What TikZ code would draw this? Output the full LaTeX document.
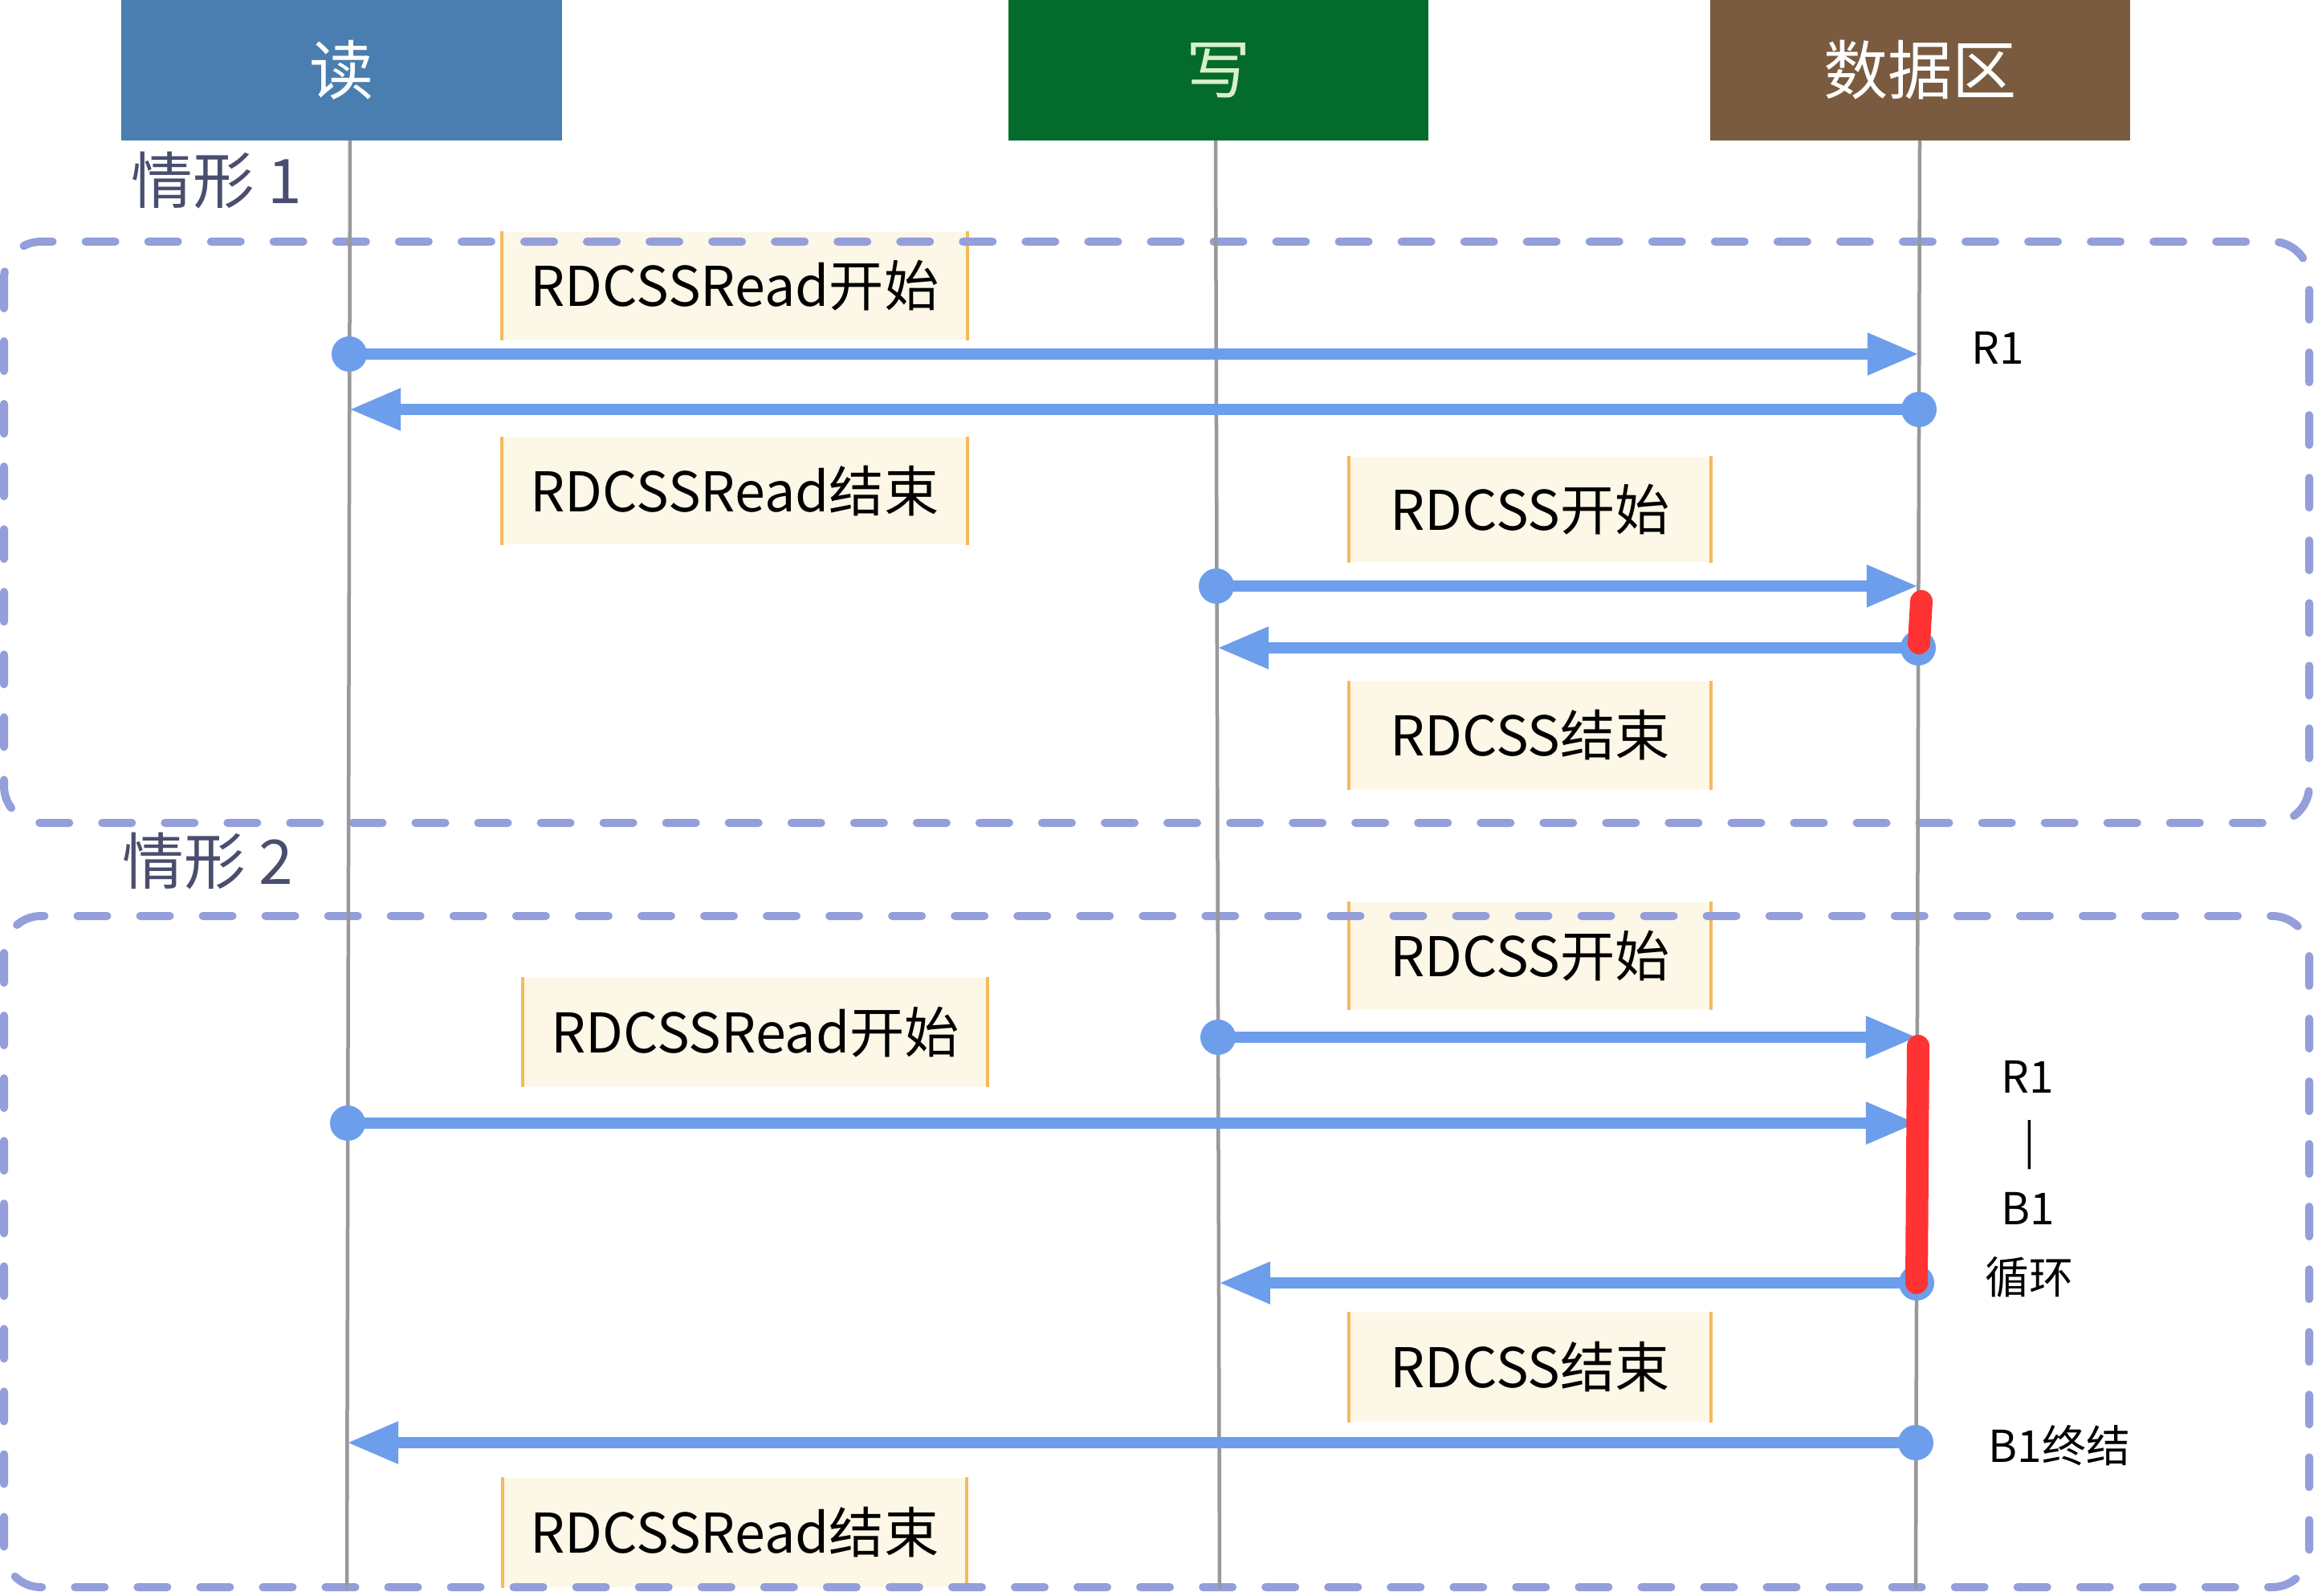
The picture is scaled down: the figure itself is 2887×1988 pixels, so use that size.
\documentclass[tikz,border=0pt]{standalone}
\usepackage{fontspec}
\setmainfont{Noto Sans CJK SC}
\usetikzlibrary{arrows.meta}
\definecolor{readblue}{HTML}{4A7EB0}
\definecolor{writegreen}{HTML}{036B2B}
\definecolor{databrown}{HTML}{7B5B3F}
\definecolor{writetext}{HTML}{D8F0C8}
\definecolor{casecol}{HTML}{4A4E6E}
\definecolor{dashcol}{HTML}{939EDA}
\definecolor{notefill}{HTML}{FCF7E6}
\definecolor{noteedge}{HTML}{F5BA5C}
\definecolor{msgblue}{HTML}{6D9EEB}
\definecolor{barred}{HTML}{FF3333}
\definecolor{lifegray}{HTML}{999999}
\begin{document}
\begin{tikzpicture}[x=0.01cm,y=-0.01cm,
 header/.style={rectangle, minimum height=1.75cm, inner sep=0, font=\fontsize{22.8}{26}\selectfont},
 notebox/.style={rectangle, fill=notefill, inner sep=0, font=\fontsize{19.4}{23}\selectfont},
 noteline/.style={draw=noteedge, line width=0.04cm},
 casebox/.style={draw=dashcol, line width=0.1cm, rounded corners=0.46cm, dash pattern=on 0.37cm off 0.41cm, line cap=round},
 caselabel/.style={text=casecol, font=\fontsize{21.8}{24}\selectfont},
 lifeline/.style={draw=lifegray, line width=0.045cm},
 msg/.style={draw=msgblue, line width=0.14cm, -{Triangle[length=0.64cm,width=0.49cm]}},
 dot/.style={circle, fill=msgblue, minimum size=0.44cm, inner sep=0},
 lockbar/.style={draw=barred, line width=0.28cm, line cap=round},
 sidelabel/.style={font=\fontsize{15.6}{18}\selectfont}
]
\useasboundingbox (0,0) rectangle (2887,1988);

% headers
\node[header, fill=readblue, text=white, minimum width=5.49cm] (hread) at (425.5,87.5) {读};
\node[header, fill=writegreen, text=writetext, minimum width=5.23cm] (hwrite) at (1517.5,87.5) {写};
\node[header, fill=databrown, text=white, minimum width=5.23cm] (hdata) at (2391.5,87.5) {数据区};

% notes
\node[notebox, minimum width=5.78cm, minimum height=1.34cm] (n1) at (915,356) {RDCSSRead开始};
\node[notebox, minimum width=5.78cm, minimum height=1.33cm] (n2) at (915,611.5) {RDCSSRead结束};
\node[notebox, minimum width=4.49cm, minimum height=1.31cm] (n3) at (1905.5,634.5) {RDCSS开始};
\node[notebox, minimum width=4.49cm, minimum height=1.34cm] (n4) at (1905.5,916) {RDCSS结束};
\node[notebox, minimum width=4.49cm, minimum height=1.33cm] (n5) at (1905.5,1190.5) {RDCSS开始};
\node[notebox, minimum width=5.77cm, minimum height=1.35cm] (n6) at (940.5,1285.5) {RDCSSRead开始};
\node[notebox, minimum width=4.49cm, minimum height=1.36cm] (n7) at (1905.5,1703) {RDCSS结束};
\node[notebox, minimum width=5.76cm, minimum height=1.36cm] (n8) at (915,1909) {RDCSSRead结束};
\foreach \n in {n1,n2,n3,n4,n5,n6,n7,n8}{
  \draw[noteline] (\n.north west) -- (\n.south west);
  \draw[noteline] (\n.north east) -- (\n.south east);
}

% case frames
\draw[casebox] (5,301) rectangle (2876,1025);
\draw[casebox] (5,1141) rectangle (2876,1977);
\node[caselabel] (c1) at (270,225) {情形 1};
\node[caselabel] (c2) at (259,1073) {情形 2};

% lifelines
\coordinate (rt) at (436,175);
\coordinate (rb) at (432,1980);
\coordinate (wt) at (1514,175);
\coordinate (wb) at (1519,1980);
\coordinate (dt) at (2391,175);
\coordinate (db) at (2386,1980);
\draw[lifeline] (rt) -- (rb);
\draw[lifeline] (wt) -- (wb);
\draw[lifeline] (dt) -- (db);

% case 1 messages
\node[dot] (d1) at (435,441) {};
\coordinate (t1) at (2390,441);
\draw[msg] (d1.center) -- (t1);
\node[dot] (d2) at (2390,510) {};
\coordinate (t2) at (435,510);
\draw[msg] (d2.center) -- (t2);
\node[dot] (d3) at (1515,730) {};
\coordinate (t3) at (2389,730);
\draw[msg] (d3.center) -- (t3);
\node[dot] (d4) at (2389,807) {};
\coordinate (t4) at (1516,807);
\draw[msg] (d4.center) -- (t4);
\coordinate (k1a) at (2393,749);
\coordinate (k1b) at (2390,801);
\draw[lockbar] (k1a) -- (k1b);

% case 2 messages
\node[dot] (d5) at (1517,1292) {};
\coordinate (t5) at (2388,1292);
\draw[msg] (d5.center) -- (t5);
\node[dot] (d6) at (433,1399) {};
\coordinate (t6) at (2388,1399);
\draw[msg] (d6.center) -- (t6);
\node[dot] (d7) at (2387,1598) {};
\coordinate (t7) at (1518,1598);
\draw[msg] (d7.center) -- (t7);
\node[dot] (d8) at (2386,1797) {};
\coordinate (t8) at (432,1797);
\draw[msg] (d8.center) -- (t8);
\coordinate (k2a) at (2389,1303);
\coordinate (k2b) at (2387,1598);
\draw[lockbar] (k2a) -- (k2b);

% side labels
\node[sidelabel] (s1) at (2488,433) {R1};
\node[sidelabel] (s2) at (2525,1341) {R1};
\node[sidelabel] (s3) at (2528,1426) {|};
\node[sidelabel] (s4) at (2526,1505) {B1};
\node[sidelabel] (s5) at (2527,1591) {循环};
\node[sidelabel] (s6) at (2565,1801) {B1终结};
\end{tikzpicture}
\end{document}
